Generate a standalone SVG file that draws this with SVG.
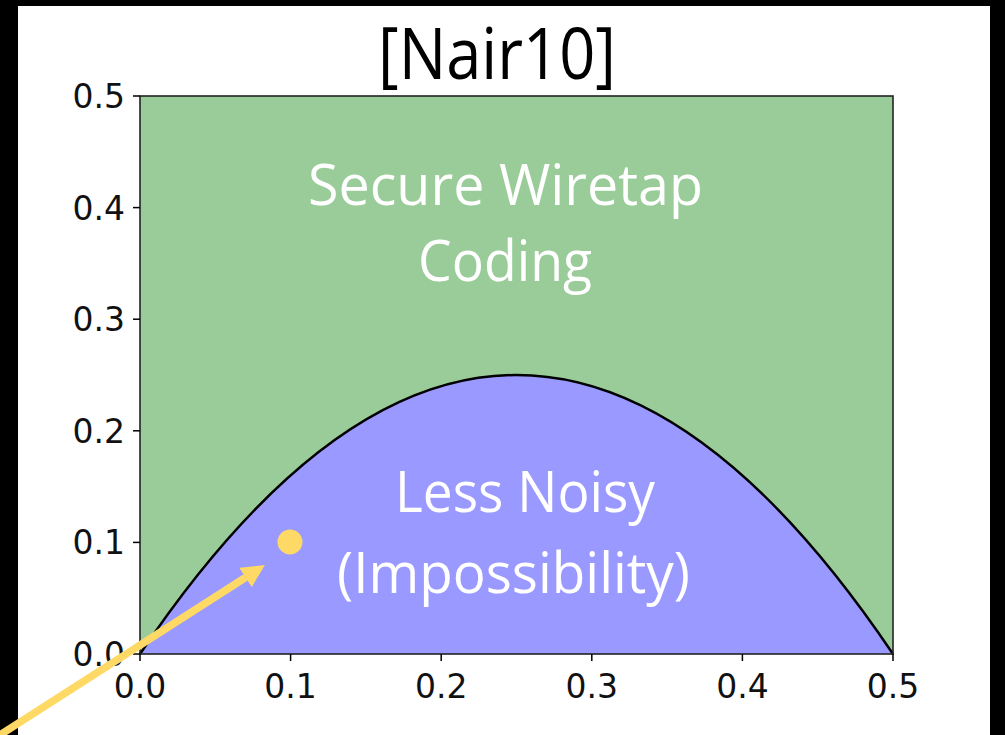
<svg xmlns="http://www.w3.org/2000/svg" width="1005" height="735" viewBox="0 0 1005 735">
  <defs>
    <style>
      .tick { stroke: #000; stroke-width: 1.5; }
      .ticklabel { font-family: "DejaVu Sans", sans-serif; font-size: 33px; fill: #111; }
      .ylab { text-anchor: end; }
      .xlab { text-anchor: middle; }
      .region-label { font-family: "Open Sans", "Liberation Sans", sans-serif; font-size: 56px; fill: #fff; text-anchor: middle; }
      .title { font-family: "Open Sans", "Liberation Sans", sans-serif; font-size: 72px; fill: #000; text-anchor: middle; }
      .pointer { stroke: #FFD966; stroke-width: 7.5; fill: none; }
    </style>
    <marker id="head" viewBox="0 0 23 23" refX="0" refY="11.5" markerWidth="23" markerHeight="23" markerUnits="userSpaceOnUse" orient="auto">
      <path d="M0,0 L23,11.5 L0,23 z" fill="#FFD966"/>
    </marker>
  </defs>

  <!-- page frame -->
  <rect x="0" y="0" width="1005" height="735" fill="#fff"/>
  <rect x="0" y="0" width="1005" height="6" fill="#000"/>
  <rect x="0" y="0" width="18" height="735" fill="#000"/>
  <rect x="990" y="0" width="15" height="735" fill="#000"/>

  <text class="title" x="497" y="79" textLength="238" lengthAdjust="spacingAndGlyphs">[Nair10]</text>

  <!-- plot area: x 0..0.5 -> 140..893, y 0..0.5 -> 654..96 -->
  <g id="region-secure">
    <rect x="140" y="96" width="753" height="558" fill="#99CC99"/>
  </g>
  <g id="region-less-noisy">
    <path d="M140,654 Q516.5,96 893,654 Z" fill="#9999FF"/>
  </g>
  <g id="boundary">
    <path d="M140,654 Q516.5,96 893,654" fill="none" stroke="#000" stroke-width="2.5"/>
  </g>
  <g id="axes">
    <rect x="140" y="96" width="753" height="558" fill="none" stroke="#222" stroke-width="1.6"/>
    <!-- y ticks -->
    <line class="tick" x1="133" y1="96" x2="140" y2="96"/>
    <line class="tick" x1="133" y1="207.6" x2="140" y2="207.6"/>
    <line class="tick" x1="133" y1="319.2" x2="140" y2="319.2"/>
    <line class="tick" x1="133" y1="430.8" x2="140" y2="430.8"/>
    <line class="tick" x1="133" y1="542.4" x2="140" y2="542.4"/>
    <line class="tick" x1="133" y1="654" x2="140" y2="654"/>
    <!-- x ticks -->
    <line class="tick" x1="140" y1="654" x2="140" y2="661"/>
    <line class="tick" x1="290.6" y1="654" x2="290.6" y2="661"/>
    <line class="tick" x1="441.2" y1="654" x2="441.2" y2="661"/>
    <line class="tick" x1="591.8" y1="654" x2="591.8" y2="661"/>
    <line class="tick" x1="742.4" y1="654" x2="742.4" y2="661"/>
    <line class="tick" x1="893" y1="654" x2="893" y2="661"/>
    <!-- y tick labels -->
    <text class="ticklabel ylab" x="125" y="108">0.5</text>
    <text class="ticklabel ylab" x="125" y="219.6">0.4</text>
    <text class="ticklabel ylab" x="125" y="331.2">0.3</text>
    <text class="ticklabel ylab" x="125" y="442.8">0.2</text>
    <text class="ticklabel ylab" x="125" y="554.4">0.1</text>
    <text class="ticklabel ylab" x="125" y="666">0.0</text>
    <!-- x tick labels -->
    <text class="ticklabel xlab" x="140" y="698">0.0</text>
    <text class="ticklabel xlab" x="290.6" y="698">0.1</text>
    <text class="ticklabel xlab" x="441.2" y="698">0.2</text>
    <text class="ticklabel xlab" x="591.8" y="698">0.3</text>
    <text class="ticklabel xlab" x="742.4" y="698">0.4</text>
    <text class="ticklabel xlab" x="893" y="698">0.5</text>
  </g>

  <g id="label-secure">
    <text class="region-label" x="505.5" y="205" textLength="395" lengthAdjust="spacingAndGlyphs">Secure Wiretap</text>
    <text class="region-label" x="505" y="281" textLength="174" lengthAdjust="spacingAndGlyphs">Coding</text>
  </g>
  <g id="label-less-noisy">
    <text class="region-label" x="525" y="512" textLength="260" lengthAdjust="spacingAndGlyphs">Less Noisy</text>
    <text class="region-label" x="513.5" y="593" textLength="353" lengthAdjust="spacingAndGlyphs">(Impossibility)</text>
  </g>

  <g id="point">
    <circle cx="290" cy="542" r="12.5" fill="#FFD966"/>
  </g>

  <g id="connectors">
    <line class="pointer" x1="-10" y1="741.4" x2="245.5" y2="577.5" marker-end="url(#head)"/>
  </g>
</svg>
